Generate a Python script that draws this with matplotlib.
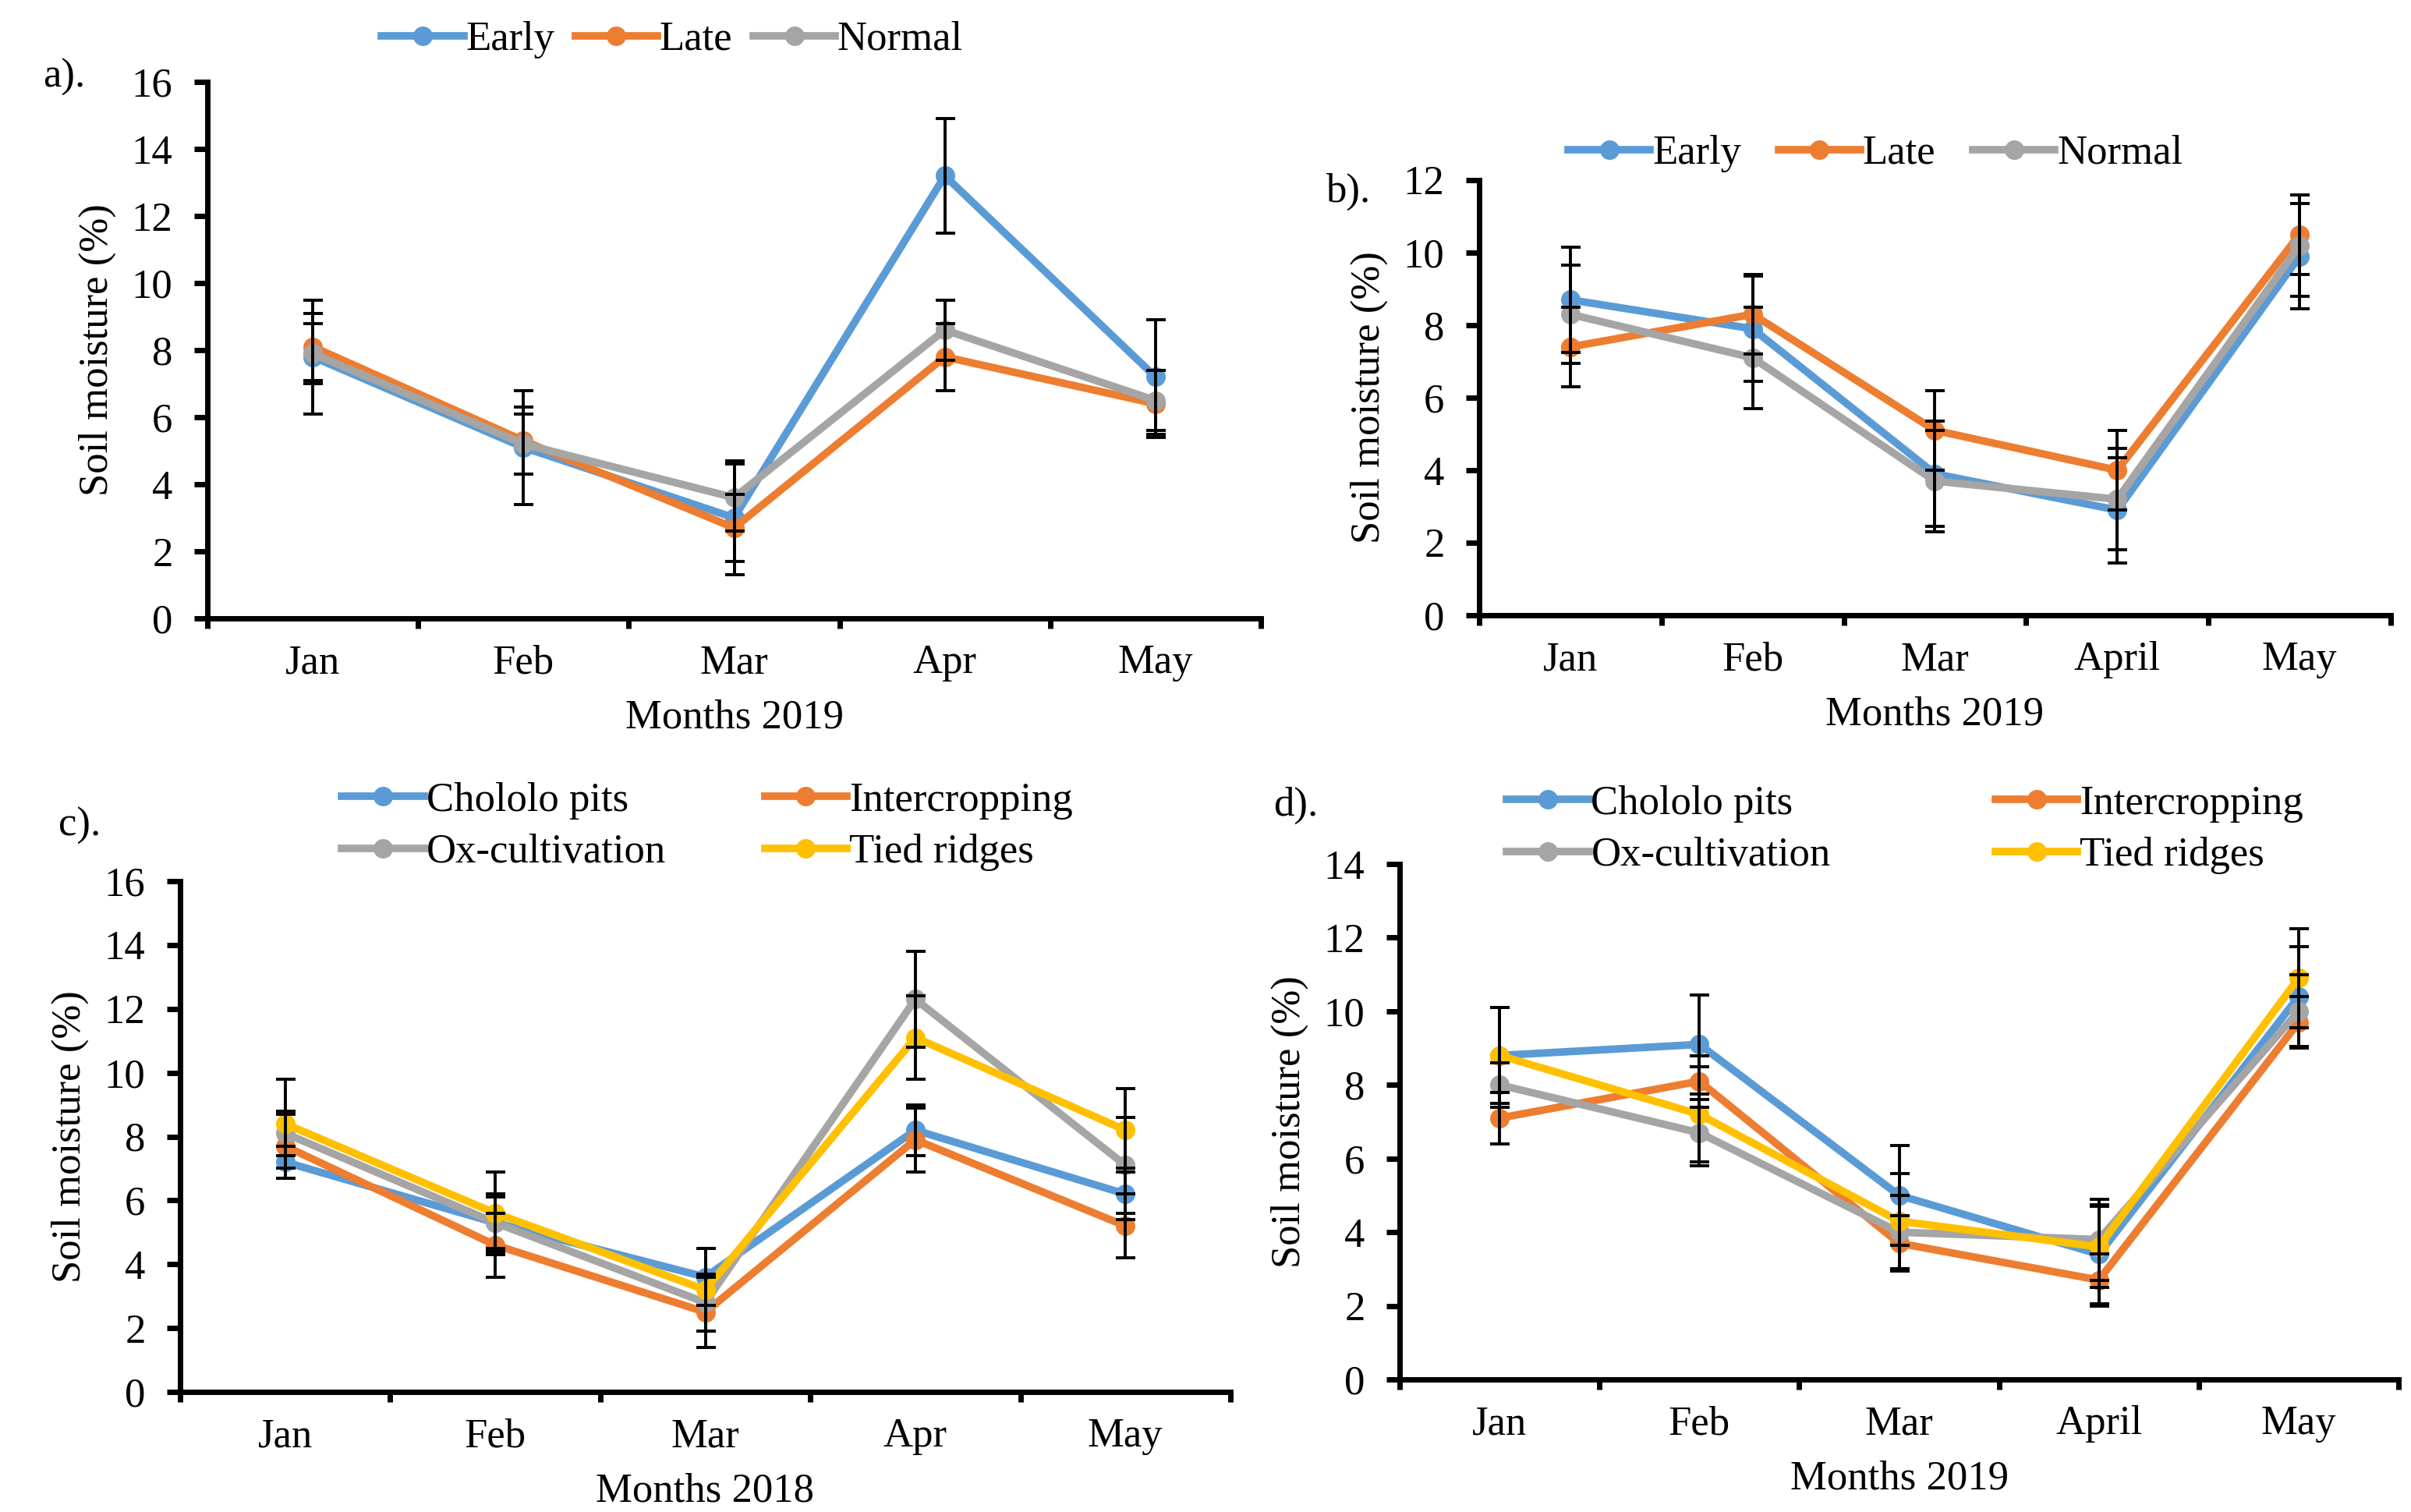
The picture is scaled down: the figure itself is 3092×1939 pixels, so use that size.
import matplotlib.pyplot as plt
import numpy as np

plt.rcParams['font.family'] = ['Liberation Serif', 'DejaVu Serif']

W, H = 3092, 1939
FS = 38

months_a = ["Jan", "Feb", "Mar", "Apr", "May"]
months_b = ["Jan", "Feb", "Mar", "April", "May"]

# panel a - planting dates 2019
early_a = [7.8, 5.1, 3.0, 13.2, 7.2]
late_a = [8.1, 5.3, 2.7, 7.8, 6.4]
normal_a = [7.9, 5.2, 3.6, 8.6, 6.5]
early_a_err = [1.7, 1.7, 1.7, 1.7, 1.7]
late_a_err = [1.0, 1.0, 1.0, 1.0, 1.0]
normal_a_err = [0.9, 0.9, 1.0, 0.9, 0.9]

# panel b - planting dates 2019
early_b = [8.7, 7.9, 3.9, 2.9, 9.9]
late_b = [7.4, 8.3, 5.1, 4.0, 10.5]
normal_b = [8.3, 7.1, 3.7, 3.2, 10.2]
early_b_err = [1.45, 1.45, 1.45, 1.45, 1.45]
late_b_err = [1.1, 1.1, 1.1, 1.1, 1.1]
normal_b_err = [1.35, 1.4, 1.4, 1.4, 1.4]

# panel c - practices 2018
chololo_c = [7.2, 5.3, 3.6, 8.2, 6.2]
inter_c = [7.7, 4.6, 2.5, 7.9, 5.2]
ox_c = [8.1, 5.3, 2.8, 12.3, 7.1]
tied_c = [8.4, 5.6, 3.2, 11.1, 8.2]
chololo_c_err = [0.5, 0.8, 0.9, 0.8, 0.8]
inter_c_err = [1.0, 1.0, 1.1, 1.0, 1.0]
ox_c_err = [0.7, 0.9, 0.9, 1.5, 1.5]
tied_c_err = [1.4, 1.3, 1.3, 1.3, 1.3]

# panel d - practices 2019
chololo_d = [8.8, 9.1, 5.0, 3.4, 10.4]
inter_d = [7.1, 8.1, 3.7, 2.7, 9.7]
ox_d = [8.0, 6.7, 4.0, 3.8, 10.0]
tied_d = [8.8, 7.2, 4.3, 3.6, 10.9]
chololo_d_err = [1.3, 1.35, 1.35, 1.35, 1.35]
inter_d_err = [0.7, 0.7, 0.75, 0.7, 0.7]
ox_d_err = [0.6, 0.9, 1.0, 1.1, 1.0]
tied_d_err = [1.3, 1.3, 1.3, 1.1, 1.35]

BLUE, ORANGE, GRAY, YELLOW = "#5B9BD5", "#ED7D31", "#A5A5A5", "#FFC000"


def px_axes(fig, left, right, top, bottom):
    return fig.add_axes([left / W, 1 - bottom / H, (right - left) / W, (bottom - top) / H])


def draw_panel(ax, months, series, ymax, xlabel):
    x = np.arange(len(months))
    for vals, errs, color, label in series:
        ax.plot(x, vals, color=color, lw=7, marker='o', ms=17, label=label, zorder=3)
    for vals, errs, color, label in series:
        ax.errorbar(x, vals, yerr=errs, fmt='none', ecolor='black', elinewidth=2.8,
                    capsize=9, capthick=2.8, zorder=4)
    ax.set_xlim(-0.5, len(months) - 0.5)
    ax.set_ylim(0, ymax)
    ax.set_yticks(np.arange(0, ymax + 1, 2))
    ax.set_xticks(np.arange(-0.5, len(months), 1))
    ax.set_xticklabels([])
    ax.set_xticks(x, minor=True)
    ax.set_xticklabels(months, minor=True)
    for side in ['top', 'right']:
        ax.spines[side].set_visible(False)
    for side in ['left', 'bottom']:
        ax.spines[side].set_linewidth(5)
    ax.tick_params(axis='x', which='major', length=9, width=5, direction='out')
    ax.tick_params(axis='x', which='minor', length=0, pad=24, labelsize=FS)
    ax.tick_params(axis='y', length=12, width=5, direction='out', pad=20, labelsize=FS)
    ax.set_xlabel(xlabel, fontsize=FS, labelpad=16)
    ax.set_ylabel("Soil moisture (%)", fontsize=FS, labelpad=14)


fig = plt.figure(figsize=(W / 100, H / 100), dpi=100)

ax_a = px_axes(fig, 266, 1617, 105, 793)
draw_panel(ax_a, months_a, [(early_a, early_a_err, BLUE, "Early"),
                            (late_a, late_a_err, ORANGE, "Late"),
                            (normal_a, normal_a_err, GRAY, "Normal")], 16, "Months 2019")

ax_b = px_axes(fig, 1897, 3066, 231, 789)
draw_panel(ax_b, months_b, [(early_b, early_b_err, BLUE, "Early"),
                            (late_b, late_b_err, ORANGE, "Late"),
                            (normal_b, normal_b_err, GRAY, "Normal")], 12, "Months 2019")

ax_c = px_axes(fig, 231, 1578, 1130, 1785)
draw_panel(ax_c, months_a, [(chololo_c, chololo_c_err, BLUE, "Chololo pits"),
                            (inter_c, inter_c_err, ORANGE, "Intercropping"),
                            (ox_c, ox_c_err, GRAY, "Ox-cultivation"),
                            (tied_c, tied_c_err, YELLOW, "Tied ridges")], 16, "Months 2018")

ax_d = px_axes(fig, 1795, 3076, 1108, 1769)
draw_panel(ax_d, months_b, [(chololo_d, chololo_d_err, BLUE, "Chololo pits"),
                            (inter_d, inter_d_err, ORANGE, "Intercropping"),
                            (ox_d, ox_d_err, GRAY, "Ox-cultivation"),
                            (tied_d, tied_d_err, YELLOW, "Tied ridges")], 14, "Months 2019")

leg_kw = dict(frameon=False, fontsize=FS, handlelength=2.0, handletextpad=0.05,
              borderpad=0, borderaxespad=0, loc='center')
ax_a.legend(ncol=3, columnspacing=0.5, bbox_to_anchor=(862 / W, 1 - 51 / H),
            bbox_transform=fig.transFigure, **leg_kw)
ax_b.legend(ncol=3, columnspacing=0.9, bbox_to_anchor=(2405 / W, 1 - 197 / H),
            bbox_transform=fig.transFigure, **leg_kw)
# order entries row-wise: Chololo, Intercropping / Ox, Tied
for ax, cx, cy, cs in [(ax_c, 907, 1060, 2.4), (ax_d, 2443, 1064, 4.0)]:
    h, l = ax.get_legend_handles_labels()
    order = [0, 2, 1, 3]
    ax.legend([h[i] for i in order], [l[i] for i in order], ncol=2, columnspacing=cs,
              labelspacing=0.35, bbox_to_anchor=(cx / W, 1 - cy / H),
              bbox_transform=fig.transFigure, **leg_kw)

fig.text(55 / W, 1 - 99 / H, "a).", fontsize=FS, va='center', ha='left')
fig.text(1700 / W, 1 - 246 / H, "b).", fontsize=FS, va='center', ha='left')
fig.text(75 / W, 1 - 1059 / H, "c).", fontsize=FS, va='center', ha='left')
fig.text(1633 / W, 1 - 1033 / H, "d).", fontsize=FS, va='center', ha='left')

fig.savefig("out.png", dpi=100)
